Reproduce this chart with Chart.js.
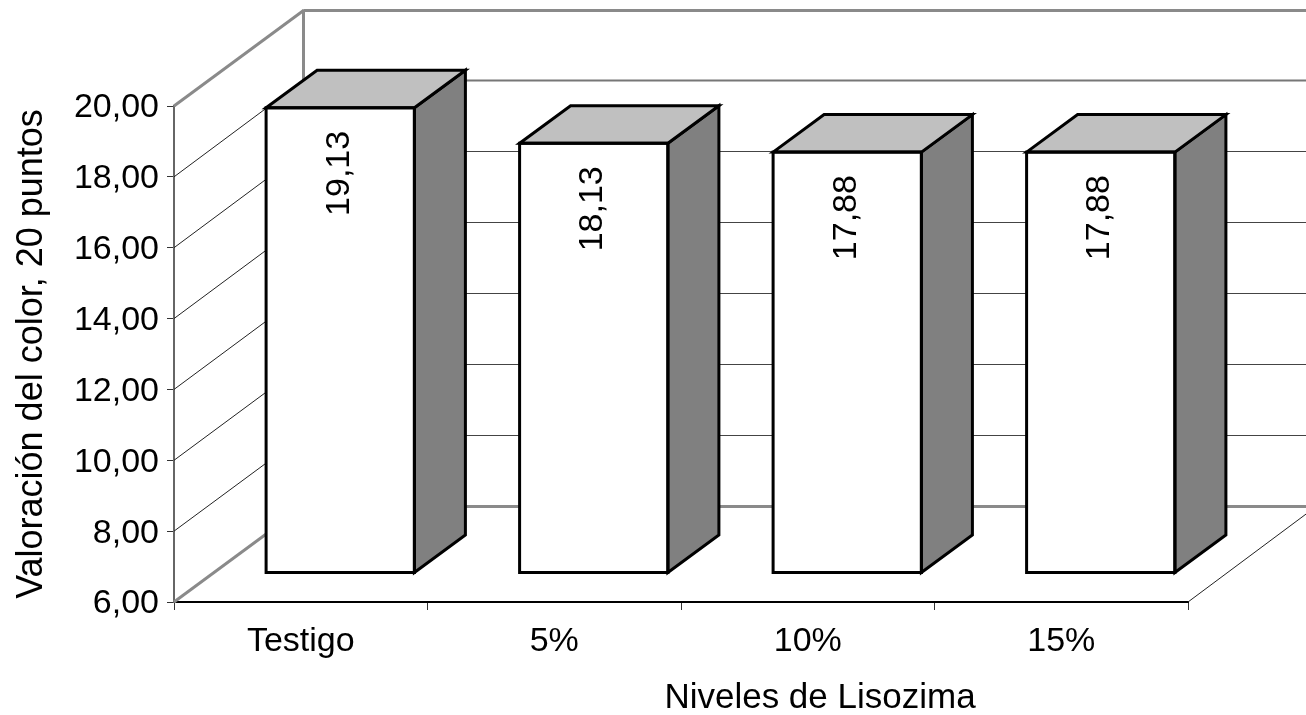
<!DOCTYPE html>
<html>
<head>
<meta charset="utf-8">
<title>Valoración del color</title>
<script src="https://cdn.jsdelivr.net/npm/chart.js@4"></script>
<style>
  html, body { margin: 0; padding: 0; background: #fff; }
  canvas { display: block; }
</style>
</head>
<body>
<canvas id="chart" width="1306" height="715"></canvas>
<script>
const categories = ['Testigo', '5%', '10%', '15%'];
const colorValues = [19.13, 18.13, 17.88, 17.88];
const valueLabels = ['19,13', '18,13', '17,88', '17,88'];
const yTickLabels = ['6,00', '8,00', '10,00', '12,00', '14,00', '16,00', '18,00', '20,00'];
const yAxisTitle = 'Valoración del color, 20 puntos';
const xAxisTitle = 'Niveles de Lisozima';

const fontFamily = '"Liberation Sans", Arial, sans-serif';

// oblique offsets of the fake 3D box
const wallDepth = { x: 129.5, y: -96.5 };
const barFront = { x: 39.5, y: -29 };
const barDepth = { x: 51, y: -37.5 };

function strokeLine(ctx, x1, y1, x2, y2, color, width) {
    ctx.beginPath();
    ctx.moveTo(x1, y1);
    ctx.lineTo(x2, y2);
    ctx.strokeStyle = color;
    ctx.lineWidth = width;
    ctx.stroke();
}

const box3dPlugin = {
    id: 'box3d',
    beforeDatasetsDraw(chart) {
        const ctx = chart.ctx;
        const area = chart.chartArea;
        const yScale = chart.scales.y;
        const backRight = chart.width;

        ctx.save();
        yScale.ticks.forEach(tick => {
            const y = yScale.getPixelForValue(tick.value);
            const isEdge = tick.value === yScale.min || tick.value === yScale.max;
            const backX = area.left + wallDepth.x;
            const backY = Math.round(y + wallDepth.y) + 0.5;
            strokeLine(ctx, area.left, y, backX, backY, isEdge ? '#8a8a8a' : '#222', isEdge ? 3 : 1);
            if (isEdge) {
                strokeLine(ctx, backX, backY, backRight, backY, '#8a8a8a', 3);
            } else if (tick.value === 18) {
                strokeLine(ctx, backX, backY, backRight, backY, '#777', 2);
            } else {
                strokeLine(ctx, backX, backY, backRight, backY, '#444', 1);
            }
        });
        strokeLine(ctx, area.left + wallDepth.x, area.top + wallDepth.y, area.left + wallDepth.x, area.bottom + wallDepth.y, '#8a8a8a', 3);
        // right edge of the floor runs off the page
        strokeLine(ctx, area.right, area.bottom, backRight, area.bottom - (backRight - area.right) * 0.745, '#222', 1);
        ctx.restore();

        ctx.save();
        ctx.translate(barFront.x, barFront.y);
    },
    afterDatasetsDraw(chart) {
        const ctx = chart.ctx;
        ctx.restore();

        ctx.save();
        ctx.lineJoin = 'miter';
        chart.getDatasetMeta(0).data.forEach((bar, i) => {
            const p = bar.getProps(['x', 'y', 'base', 'width'], true);
            const left = p.x - p.width / 2 + barFront.x;
            const right = p.x + p.width / 2 + barFront.x;
            const top = p.y + barFront.y;
            const bottom = p.base + barFront.y;

            ctx.strokeStyle = '#000';
            ctx.lineWidth = 3;

            ctx.beginPath();
            ctx.moveTo(right, top);
            ctx.lineTo(right + barDepth.x, top + barDepth.y);
            ctx.lineTo(right + barDepth.x, bottom + barDepth.y);
            ctx.lineTo(right, bottom);
            ctx.closePath();
            ctx.fillStyle = '#808080';
            ctx.fill();
            ctx.stroke();

            ctx.beginPath();
            ctx.moveTo(left, top);
            ctx.lineTo(left + barDepth.x, top + barDepth.y);
            ctx.lineTo(right + barDepth.x, top + barDepth.y);
            ctx.lineTo(right, top);
            ctx.closePath();
            ctx.fillStyle = '#c0c0c0';
            ctx.fill();
            ctx.stroke();

            // outline sits centred on the bar edge, the library insets it
            ctx.strokeRect(left, top, right - left, bottom - top);

            ctx.save();
            ctx.translate(p.x + barFront.x - 1, top + 23);
            ctx.rotate(-Math.PI / 2);
            ctx.font = '34px ' + fontFamily;
            ctx.fillStyle = '#000';
            ctx.textAlign = 'right';
            ctx.textBaseline = 'middle';
            ctx.fillText(valueLabels[i], 0, 0);
            ctx.restore();
        });

        ctx.font = '35px ' + fontFamily;
        ctx.fillStyle = '#000';
        ctx.textAlign = 'center';
        ctx.textBaseline = 'alphabetic';
        ctx.fillText(xAxisTitle, 820, 708);
        ctx.restore();
    }
};

new Chart(document.getElementById('chart').getContext('2d'), {
    type: 'bar',
    data: {
        labels: categories,
        datasets: [{
            data: colorValues,
            base: 6,
            backgroundColor: '#fff',
            borderWidth: 0,
            categoryPercentage: 1,
            barPercentage: 0.585
        }]
    },
    options: {
        responsive: false,
        animation: false,
        layout: { padding: { top: 106, right: 118, left: 0, bottom: 0 } },
        plugins: {
            legend: { display: false },
            tooltip: { enabled: false }
        },
        scales: {
            x: {
                afterFit(scale) { scale.height = 113; },
                grid: { drawOnChartArea: false, tickLength: 8, color: '#333' },
                border: { color: '#000', width: 2 },
                ticks: {
                    color: '#000',
                    font: { family: fontFamily, size: 34 },
                    padding: 11,
                    maxRotation: 0
                }
            },
            y: {
                min: 6,
                max: 20,
                afterFit(scale) { scale.width = 174; },
                afterUpdate(scale) {
                    // tick labels sit 2px under the tick in the reference
                    if (scale.labelsShifted) return;
                    scale.labelsShifted = true;
                    const drawLabels = scale.drawLabels;
                    scale.drawLabels = function (area) {
                        this.ctx.save();
                        this.ctx.translate(0, 2);
                        drawLabels.call(this, area);
                        this.ctx.restore();
                    };
                },
                grid: { drawOnChartArea: false, tickLength: 7, color: '#333' },
                border: { color: '#666', width: 2 },
                title: {
                    display: true,
                    text: yAxisTitle,
                    color: '#000',
                    font: { family: fontFamily, size: 36 },
                    padding: { top: 10, bottom: 0 }
                },
                ticks: {
                    stepSize: 2,
                    color: '#000',
                    padding: 8,
                    font: { family: fontFamily, size: 34 },
                    callback: (value, i) => yTickLabels[i]
                }
            }
        }
    },
    plugins: [box3dPlugin]
});
</script>
</body>
</html>
